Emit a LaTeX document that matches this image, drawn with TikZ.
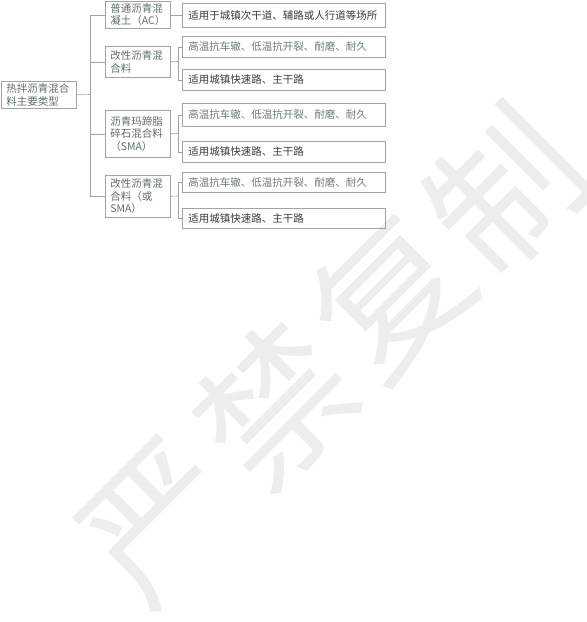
\documentclass[tikz,border=0pt]{standalone}
\usepackage{fontspec}
\newfontfamily\cjk{Noto Sans CJK SC}
\definecolor{boxc}{HTML}{A3A3A3}
\definecolor{lvtext}{HTML}{5E6E66}
\definecolor{hitext}{HTML}{6E7C74}
\definecolor{dktext}{HTML}{3A3A3A}
\definecolor{wmc}{HTML}{EDEDED}
\begin{document}
\begin{tikzpicture}[x=1pt,y=-1pt,
  box/.style={draw=boxc, line width=0.6pt, rectangle, anchor=north west,
    inner xsep=5pt, inner ysep=1pt, align=left,
    font=\cjk\fontsize{10.5}{12.5}\selectfont},
  lone/.style={box, text=lvtext, minimum width=65pt, text width=55pt},
  ltwo/.style={box, minimum width=203pt, text width=191pt, inner xsep=6pt},
  conn/.style={draw=boxc, line width=0.6pt},
  wm/.style={text=wmc, font=\cjk\fontsize{150}{150}\selectfont, rotate=45, inner sep=0pt}]
\useasboundingbox (0,0) rectangle (587,622);
% watermark
\node[wm] (w1) at (160,522) {严};
\node[wm] (w2) at (275,405) {禁};
\node[wm] (w3) at (390,295) {复};
\node[wm] (w4) at (505,190) {制};
% root
\node[box, text=lvtext, minimum width=75pt, text width=65pt, minimum height=27pt] (root) at (1,81) {热拌沥青混合\\料主要类型};
% level one
\node[lone, minimum height=27pt] (a) at (105,1) {普通沥青混\\凝土（AC）};
\node[lone, minimum height=31pt] (b) at (105,46) {改性沥青混\\合料};
\node[lone, minimum height=47pt] (c) at (105,110) {沥青玛蹄脂\\碎石混合料\\（SMA）};
\node[lone, minimum height=42pt] (d) at (105,175) {改性沥青混\\合料（或\\SMA）};
% level two
\node[ltwo, text=dktext, minimum height=24pt] (c1) at (182,3) {适用于城镇次干道、辅路或人行道等场所};
\node[ltwo, text=hitext, minimum height=21pt] (c2) at (182,36) {高温抗车辙、低温抗开裂、耐磨、耐久};
\node[ltwo, text=dktext, minimum height=21pt] (c3) at (182,69) {适用城镇快速路、主干路};
\node[ltwo, text=hitext, minimum height=23pt] (c4) at (182,103) {高温抗车辙、低温抗开裂、耐磨、耐久};
\node[ltwo, text=dktext, minimum height=21pt] (c5) at (182,141) {适用城镇快速路、主干路};
\node[ltwo, text=hitext, minimum height=20pt] (c6) at (182,172) {高温抗车辙、低温抗开裂、耐磨、耐久};
\node[ltwo, text=dktext, minimum height=20pt] (c7) at (182,208) {适用城镇快速路、主干路};
% connectors
\coordinate (t) at (90.5,94.5);
\draw[conn] (root.east) -- (t);
\foreach \n in {a,b,c,d} \draw[conn] (t) |- (\n.west);
\draw[conn] (a.east) -- (c1.west |- a.east);
\coordinate (bj) at (178,61.5);
\coordinate (cj) at (178,133.5);
\coordinate (dj) at (178,196);
\draw[conn] (b.east) -- (bj);
\draw[conn] (c.east) -- (cj);
\draw[conn] (d.east) -- (dj);
\draw[conn] (bj) |- (c2.west);
\draw[conn] (bj) |- (c3.west);
\draw[conn] (cj) |- (c4.west);
\draw[conn] (cj) |- (c5.west);
\draw[conn] (dj) |- (c6.west);
\draw[conn] (dj) |- (c7.west);
\end{tikzpicture}
\end{document}
